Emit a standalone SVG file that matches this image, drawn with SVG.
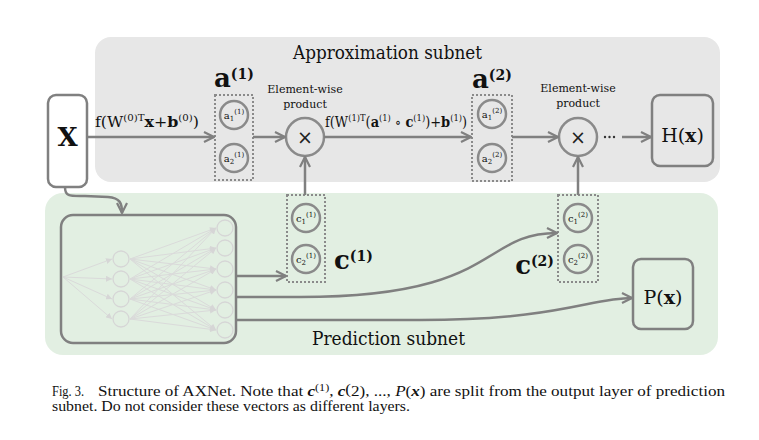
<svg xmlns="http://www.w3.org/2000/svg" width="759" height="440" viewBox="0 0 759 440">
<style>
.lbl{font-family:"DejaVu Serif","Liberation Serif",serif;fill:#111}
.cap{font-family:"Liberation Serif","Times New Roman",serif;font-size:14px;fill:#111}
.ln{fill:none;stroke:#808080;stroke-width:2.5}
.box{fill:none;stroke:#808080;stroke-width:2.5}
.dot{fill:none;stroke:#8a8a8a;stroke-width:2;stroke-dasharray:2 2}
.nd{fill:none;stroke:#8a8a8a;stroke-width:2.5}
.nn{fill:none;stroke:#d6d6d6;stroke-width:1.3}
.nl{stroke:#dadada;stroke-width:1;marker-end:url(#sa)}
.sm{font-size:10px}
</style>
<defs>
<marker id="ah" viewBox="0 0 12 12" refX="11" refY="6" markerWidth="12" markerHeight="12" markerUnits="userSpaceOnUse" orient="auto">
<path d="M1,1 L11,6 L1,11" fill="none" stroke="#808080" stroke-width="2.2"/>
</marker>
<marker id="sa" viewBox="0 0 6 6" refX="6" refY="3" markerWidth="6" markerHeight="6" markerUnits="userSpaceOnUse" orient="auto">
<path d="M0,0 L6,3 L0,6 Z" fill="#d6d6d6"/>
</marker>
</defs>
<rect width="759" height="440" fill="#ffffff"/>

<g id="approx-subnet">
<rect x="95" y="37" width="625" height="145" rx="16" fill="#e7e7e7"/>
<text class="lbl" x="293" y="59" font-size="18" textLength="189" lengthAdjust="spacingAndGlyphs">Approximation subnet</text>
</g>
<g id="pred-subnet">
<rect x="45" y="193" width="673" height="162" rx="18" fill="#e2efe2"/>
<text class="lbl" x="312" y="345" font-size="18" textLength="153" lengthAdjust="spacingAndGlyphs">Prediction subnet</text>
</g>

<g id="input-x">
<rect class="box" x="48" y="95" width="39" height="92" rx="8" fill="#ffffff"/>
<text class="lbl" x="67.5" y="146" font-size="26" font-weight="bold" text-anchor="middle">X</text>
</g>

<g id="nn">
<line class="nl" x1="63" y1="277" x2="112" y2="259"/>
<line class="nl" x1="63" y1="277" x2="112" y2="279"/>
<line class="nl" x1="63" y1="277" x2="112" y2="299"/>
<line class="nl" x1="63" y1="277" x2="112" y2="319"/>
<line class="nl" x1="130" y1="259" x2="216" y2="228"/>
<line class="nl" x1="130" y1="259" x2="216" y2="248"/>
<line class="nl" x1="130" y1="259" x2="216" y2="269"/>
<line class="nl" x1="130" y1="259" x2="216" y2="290"/>
<line class="nl" x1="130" y1="259" x2="216" y2="310"/>
<line class="nl" x1="130" y1="259" x2="216" y2="330"/>
<line class="nl" x1="130" y1="279" x2="216" y2="228"/>
<line class="nl" x1="130" y1="279" x2="216" y2="248"/>
<line class="nl" x1="130" y1="279" x2="216" y2="269"/>
<line class="nl" x1="130" y1="279" x2="216" y2="290"/>
<line class="nl" x1="130" y1="279" x2="216" y2="310"/>
<line class="nl" x1="130" y1="279" x2="216" y2="330"/>
<line class="nl" x1="130" y1="299" x2="216" y2="228"/>
<line class="nl" x1="130" y1="299" x2="216" y2="248"/>
<line class="nl" x1="130" y1="299" x2="216" y2="269"/>
<line class="nl" x1="130" y1="299" x2="216" y2="290"/>
<line class="nl" x1="130" y1="299" x2="216" y2="310"/>
<line class="nl" x1="130" y1="299" x2="216" y2="330"/>
<line class="nl" x1="130" y1="319" x2="216" y2="228"/>
<line class="nl" x1="130" y1="319" x2="216" y2="248"/>
<line class="nl" x1="130" y1="319" x2="216" y2="269"/>
<line class="nl" x1="130" y1="319" x2="216" y2="290"/>
<line class="nl" x1="130" y1="319" x2="216" y2="310"/>
<line class="nl" x1="130" y1="319" x2="216" y2="330"/>
<circle class="nn" cx="121" cy="259" r="8"/>
<circle class="nn" cx="121" cy="279" r="8"/>
<circle class="nn" cx="121" cy="299" r="8"/>
<circle class="nn" cx="121" cy="319" r="8"/>
<circle class="nn" cx="225" cy="228" r="8"/>
<circle class="nn" cx="225" cy="248" r="8"/>
<circle class="nn" cx="225" cy="269" r="8"/>
<circle class="nn" cx="225" cy="290" r="8"/>
<circle class="nn" cx="225" cy="310" r="8"/>
<circle class="nn" cx="225" cy="330" r="8"/>
<rect class="box" x="61" y="215" width="175" height="128" rx="12"/>
</g>

<g id="a1">
<rect class="dot" x="215" y="95" width="38" height="85"/>
<circle class="nd" cx="234" cy="115" r="14"/>
<circle class="nd" cx="234" cy="158" r="14"/>
<text class="lbl sm" x="234" y="119" text-anchor="middle">a<tspan font-size="7" dy="2">1</tspan><tspan font-size="7" dy="-7">(1)</tspan></text>
<text class="lbl sm" x="234" y="162" text-anchor="middle">a<tspan font-size="7" dy="2">2</tspan><tspan font-size="7" dy="-7">(1)</tspan></text>
<text class="lbl" x="214" y="87" font-size="26" font-weight="bold">a<tspan font-size="14" dy="-8">(1)</tspan></text>
</g>

<g id="mul1">
<circle class="nd" cx="305" cy="137" r="19"/>
<text x="305" y="144" font-family="DejaVu Sans,sans-serif" font-size="19" text-anchor="middle" fill="#222">×</text>
<text class="lbl" x="305" y="93" font-size="11" text-anchor="middle">Element-wise</text>
<text class="lbl" x="305" y="108" font-size="11" text-anchor="middle">product</text>
</g>

<g id="a2">
<rect class="dot" x="472" y="95" width="40" height="86"/>
<circle class="nd" cx="492" cy="114" r="14"/>
<circle class="nd" cx="492" cy="158" r="14"/>
<text class="lbl sm" x="492" y="118" text-anchor="middle">a<tspan font-size="7" dy="2">1</tspan><tspan font-size="7" dy="-7">(2)</tspan></text>
<text class="lbl sm" x="492" y="162" text-anchor="middle">a<tspan font-size="7" dy="2">2</tspan><tspan font-size="7" dy="-7">(2)</tspan></text>
<text class="lbl" x="472" y="88" font-size="26" font-weight="bold">a<tspan font-size="14" dy="-8">(2)</tspan></text>
</g>

<g id="mul2">
<circle class="nd" cx="578" cy="137" r="19"/>
<text x="578" y="144" font-family="DejaVu Sans,sans-serif" font-size="19" text-anchor="middle" fill="#222">×</text>
<text class="lbl" x="578" y="92" font-size="11" text-anchor="middle">Element-wise</text>
<text class="lbl" x="578" y="107" font-size="11" text-anchor="middle">product</text>
<circle cx="605" cy="137" r="1.2" fill="#333"/>
<circle cx="609.5" cy="137" r="1.2" fill="#333"/>
<circle cx="614" cy="137" r="1.2" fill="#333"/>
</g>

<g id="hx">
<rect class="box" x="652" y="95" width="61" height="71" rx="8" fill="#e7e7e7"/>
<text class="lbl" x="682.5" y="142" font-size="19" text-anchor="middle">H(<tspan font-weight="bold">x</tspan>)</text>
</g>

<g id="c1">
<rect class="dot" x="287" y="195" width="38" height="87"/>
<circle class="nd" cx="306" cy="218" r="14"/>
<circle class="nd" cx="306" cy="259" r="14"/>
<text class="lbl sm" x="306" y="222" text-anchor="middle">c<tspan font-size="7" dy="2">1</tspan><tspan font-size="7" dy="-7">(1)</tspan></text>
<text class="lbl sm" x="306" y="263" text-anchor="middle">c<tspan font-size="7" dy="2">2</tspan><tspan font-size="7" dy="-7">(1)</tspan></text>
<text class="lbl" x="334" y="269" font-size="26" font-weight="bold">c<tspan font-size="14" dy="-8">(1)</tspan></text>
</g>

<g id="c2">
<rect class="dot" x="558" y="195" width="40" height="87"/>
<circle class="nd" cx="578" cy="218" r="14"/>
<circle class="nd" cx="578" cy="259" r="14"/>
<text class="lbl sm" x="578" y="222" text-anchor="middle">c<tspan font-size="7" dy="2">1</tspan><tspan font-size="7" dy="-7">(2)</tspan></text>
<text class="lbl sm" x="578" y="263" text-anchor="middle">c<tspan font-size="7" dy="2">2</tspan><tspan font-size="7" dy="-7">(2)</tspan></text>
<text class="lbl" x="554" y="274" font-size="26" font-weight="bold" text-anchor="end">c<tspan font-size="14" dy="-8">(2)</tspan></text>
</g>

<g id="px">
<rect class="box" x="633" y="259" width="60" height="70" rx="8"/>
<text class="lbl" x="663" y="304" font-size="19" text-anchor="middle">P(<tspan font-weight="bold">x</tspan>)</text>
</g>

<g id="connectors">
<path class="ln" d="M87,137 H214" marker-end="url(#ah)"/>
<path class="ln" d="M253,137 H285" marker-end="url(#ah)"/>
<path class="ln" d="M324,137 H471" marker-end="url(#ah)"/>
<path class="ln" d="M512,137 H558" marker-end="url(#ah)"/>
<path class="ln" d="M622,137 H651" marker-end="url(#ah)"/>
<path class="ln" d="M305,195 V157" marker-end="url(#ah)"/>
<path class="ln" d="M578,195 V157" marker-end="url(#ah)"/>
<path class="ln" d="M65,187 C65,197 70,196 85,196 L108,197 C120,198 122,203 122,213" marker-end="url(#ah)"/>
<path class="ln" d="M236,276 H286" marker-end="url(#ah)"/>
<path class="ln" d="M236,297 H300 C500,297 480,233 557,233" marker-end="url(#ah)"/>
<path class="ln" d="M236,320 H420 C560,320 590,298 632,298" marker-end="url(#ah)"/>
<text class="lbl" x="95" y="127" font-size="14" textLength="104" lengthAdjust="spacingAndGlyphs">f(W<tspan font-size="9" dy="-6">(0)T</tspan><tspan font-weight="bold" dy="6">x</tspan>+<tspan font-weight="bold">b</tspan><tspan font-size="9" dy="-6">(0)</tspan><tspan dy="6">)</tspan></text>
<text class="lbl" x="325" y="127" font-size="14" textLength="142" lengthAdjust="spacingAndGlyphs">f(W<tspan font-size="9" dy="-6">(1)T</tspan><tspan dy="6">(</tspan><tspan font-weight="bold">a</tspan><tspan font-size="9" dy="-6">(1)</tspan><tspan dy="6"> ∘ </tspan><tspan font-weight="bold">c</tspan><tspan font-size="9" dy="-6">(1)</tspan><tspan dy="6">)+</tspan><tspan font-weight="bold">b</tspan><tspan font-size="9" dy="-6">(1)</tspan><tspan dy="6">)</tspan></text>
</g>

<g id="caption">
<text class="cap" x="52" y="396" textLength="32" lengthAdjust="spacingAndGlyphs">Fig. 3.</text>
<text class="cap" x="98" y="396" textLength="627" lengthAdjust="spacingAndGlyphs">Structure of AXNet. Note that <tspan font-style="italic" font-weight="bold">c</tspan><tspan font-size="10" dy="-5">(1)</tspan><tspan dy="5">, </tspan><tspan font-style="italic" font-weight="bold">c</tspan><tspan dy="-2">(</tspan><tspan dy="2">2), ..., </tspan><tspan font-style="italic">P</tspan>(<tspan font-style="italic" font-weight="bold">x</tspan>) are split from the output layer of prediction</text>
<text class="cap" x="52" y="411" textLength="358" lengthAdjust="spacingAndGlyphs">subnet. Do not consider these vectors as different layers.</text>
</g>
</svg>
